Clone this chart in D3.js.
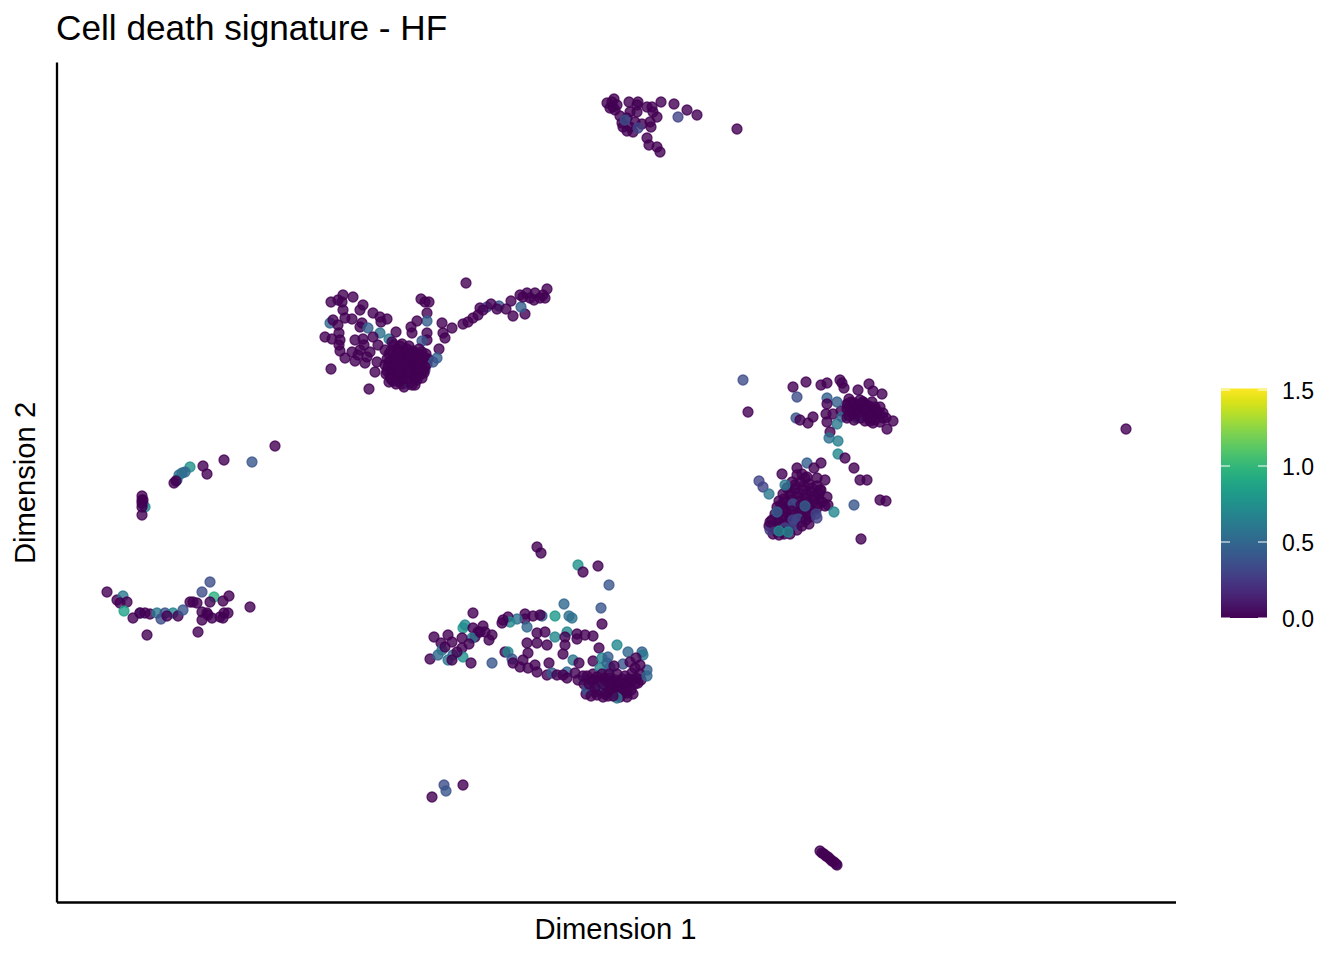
<!DOCTYPE html>
<html><head><meta charset="utf-8">
<script src="https://cdn.jsdelivr.net/npm/d3@7"></script>
<style>html,body{margin:0;background:#fff}svg{display:block}text{font-family:"Liberation Sans",Arial,sans-serif;fill:#000}</style>
</head><body><svg id="c" width="1344" height="960"></svg>
<script>
// Each cell: [dimension 1, dimension 2, signature score (0 when omitted)]
const upperLeftArm=[[409,619],[274,600],[286,607],[296,605],[285,600],[281,602],[306,597],[303,592],[286,592],[273,579,.5],[276,582],[281,577],[288,584],[295,583],[305,579],[303,575],[316,589],[323,585],[330,583],[324,580],[311,574,.45],[323,569,.55],[332,563,.6],[268,565],[275,563],[282,569],[283,562],[282,557],[283,551],[288,544],[298,562],[306,563],[316,565],[303,552],[298,541],[308,539],[274,533],[312,513],[318,530],[301,547],[313,550],[321,557],[328,552],[310,545],[320,540],[295,550],[307,557],[364,603],[368,600],[372,600],[370,589],[370,581,.45],[360,581],[354,575],[355,569],[339,570],[370,569],[370,562],[365,561,.4],[385,579],[395,574],[386,569],[388,564],[382,553],[380,544,.45],[368,532,.3]];
const upperCore=[[335,560],[345,558],[352,556],[340,553],[348,551],[356,551],[362,553],[332,548],[338,546],[344,547],[350,546],[357,546],[363,547],[369,548],[330,543],[335,541],[341,541],[347,541],[353,541],[359,541],[365,542],[371,543],[328,537],[334,536],[340,536],[346,536],[352,536],[358,536],[364,537],[370,538],[376,540,.4],[330,531],[336,531],[342,531],[348,531],[354,531],[360,531],[366,532],[333,526],[339,526],[345,526],[351,526],[357,526],[363,527],[336,521],[342,520],[348,521],[354,520],[360,522],[345,518],[352,518,.5],[337,523,.4],[332,520],[358,517]];
const upperCoreFill=[[337,557],[343,556],[350,553],[358,549],[365,550],[334,551],[341,549],[347,544],[353,548],[360,544],[367,545],[332,540],[338,539],[344,538],[350,539],[356,538],[362,539],[368,535],[331,535],[337,533],[343,534],[349,533],[355,534],[361,534],[367,529],[329,528],[335,528],[341,528],[347,528],[353,528],[359,528],[365,524],[334,523],[340,523],[346,523],[352,523],[358,524],[339,518],[347,515],[355,517],[343,543],[352,543],[346,530],[350,535],[348,537],[345,533],[351,529],[343,530]];
const upperRightArm=[[406,578],[411,580],[416,584],[421,587],[423,594],[430,595,.3],[442,596,.4],[440,593],[454,601],[456,586],[468,588],[464,595,.45],[463,607],[470,609],[478,609],[490,613],[488,604],[483,604],[473,604],[466,605],[486,607],[477,602],[426,592],[434,598],[449,593]];
const lowerIslands=[[480,355],[484,349],[521,337,.75],[526,330],[541,336],[552,317,.4],[507,298,.5],[544,294,.4],[498,286,.8],[512,286,.55],[515,284,.55],[416,289],[545,278],[468,288],[485,286,.45],[483,287],[476,286],[468,283],[460,283,.55],[451,285],[453,280,.7],[445,279],[446,282]];
const lowerLeft=[[406,274,.8],[408,277,.7],[416,274],[426,276],[421,270],[428,270],[435,267],[418,265],[415,264,.6],[377,265],[391,267],[384,259],[395,260],[405,264],[405,254],[373,243],[381,247,.5],[385,252,.6],[391,242,.6],[396,247,.5],[395,242],[406,245,.75],[414,239],[435,239,.4],[432,262],[423,270],[412,258],[388,255],[400,250]];
const lowerMiddle=[[470,275,.5],[480,269],[488,270],[498,265,.7],[510,270,.7],[508,265],[520,268],[520,263],[528,267],[536,266],[470,259],[480,259],[490,257],[508,257],[506,248],[542,254],[560,257,.7],[448,250],[451,250,.7],[471,249],[455,243,.4],[456,239],[466,242],[463,235],[471,234],[478,237],[480,230],[492,239],[490,227],[495,229,.45],[500,227],[510,230,.5],[506,227],[510,224],[516,242,.6],[522,239],[518,229],[521,222],[528,222,.6]];
const lowerCore=[[536,241],[545,244,.7],[543,234,.7],[553,235,.45],[550,239,.5],[571,250,.5],[585,250,.45],[586,247,.6],[590,232,.45],[583,237],[578,234],[575,222],[543,215,.55],[530,212,.4],[536,222],[548,222],[558,215],[552,210],[561,207],[566,209],[560,204,.6],[540,225],[545,228],[552,228],[560,228],[568,226],[575,229],[583,228],[532,218],[538,214],[546,218],[553,218],[562,220],[570,216],[578,218],[584,222],[526,226],[548,208],[556,206],[540,207],[534,206],[568,212],[574,212],[590,226,.5],[566,238,.4],[557,236],[551,245,.45],[573,240],[579,244]];
const lowerCoreFill=[[530,226],[536,228],[541,220],[547,224],[553,224],[558,222],[565,223],[572,223],[579,224],[535,216],[542,216],[549,214],[555,212],[559,218],[566,218],[573,219],[581,219],[544,211],[551,206],[557,210],[563,213],[570,209],[576,208],[563,205],[570,205],[546,205],[529,208],[527,218],[538,210],[544,221],[550,219],[556,218],[562,215],[552,214],[555,221],[545,212]];
const rightUpper=[[686,522,.35],[691,490],[736,515],[749,520],[764,517],[770,519],[740,505,.35],[783,522],[785,519],[787,514],[770,504,.45],[780,500,.45],[770,498],[791,498],[801,512],[812,518],[816,511],[825,508],[739,484,.4],[743,482],[751,479],[756,485],[769,488],[776,488],[770,480],[780,478,.6],[785,485,.5],[790,484],[800,484,.45],[795,492],[800,495],[806,500],[814,494],[806,500],[823,495],[810,490],[820,489],[826,489],[816,479],[823,480],[836,481],[830,473],[773,470],[772,464,.55],[781,461,.65],[781,448,.7],[788,444],[797,434],[803,422],[810,422],[823,402],[829,401],[797,397,.4],[804,363]];
const rightTopCore=[[792,503],[797,499],[803,502],[809,497],[815,500],[790,493],[796,488],[802,490],[808,492],[814,488],[820,491],[826,484],[812,484],[804,484],[797,482],[818,482],[792,486]];
const rightTopFill=[[794,500],[800,497],[806,499],[812,496],[818,495],[793,490],[799,493],[805,495],[811,491],[817,487],[823,488],[829,484],[800,486],[806,487],[813,481],[808,481],[795,495],[802,494],[809,486],[790,498],[784,491]];
const rightLowerCore=[[745,428],[735,420],[743,420],[752,418],[760,416],[730,414],[738,413],[746,412],[754,410],[762,408],[726,408],[733,406],[741,405],[749,404],[757,402],[765,400],[722,401],[729,400],[736,398,.35],[744,397],[752,396],[760,394],[720,395],[727,393],[735,391],[743,390],[751,388],[759,388,.3],[718,388],[725,386],[733,384],[741,383,.35],[749,382],[715,382],[722,379],[730,378],[738,377,.3],[745,376],[718,373],[728,374,.3],[733,368],[716,368],[722,367]];
const rightLowerFill=[[748,424],[738,417],[747,416],[755,414],[764,412],[733,410],[741,409],[750,408],[758,406],[727,403],[735,402],[743,401],[751,400],[760,398],[724,397],[731,396],[740,394],[748,393],[756,391],[722,391],[729,390],[737,388],[745,386],[753,385],[720,384],[727,382],[735,381],[744,380],[752,378],[717,377],[724,375],[732,373],[740,372],[720,370],[727,368],[712,376],[762,402],[768,396]];
const rightLower=[[750,439,.45],[764,439],[740,434],[725,428],[702,421,.3],[706,415,.3],[712,408,.6],[728,417,.6],[740,427],[750,425],[757,434],[768,422],[760,424],[763,412],[770,405],[771,397],[777,390,.7],[748,396,.45],[720,390,.45],[736,382,.3],[713,372,.25],[725,370],[731,370,.7],[722,371,.7],[713,380],[760,384,.3]];
const farLeftTop=[[218,456],[195,440,.4],[167,442],[146,436],[150,428],[133,435,.75],[128,430,.5],[125,429,.5],[122,427,.55],[120,422,.6],[117,419],[119,421],[85,406],[85,402],[86,398],[88,395,.7],[85,395],[85,399],[86,402],[85,387]];
const farLeftBottom=[[50,310],[60,302],[66,306,.6],[63,299],[70,300],[67,291,.85],[83,289,.35],[76,284],[83,289],[88,289],[93,288],[100,289,.6],[104,283,.35],[108,289,.4],[116,289,.7],[110,286],[121,286],[126,292,.4],[133,300],[136,300],[140,299],[145,310,.35],[153,320,.35],[157,305,.95],[153,300],[172,306],[166,301],[193,295],[145,290],[150,289],[151,287],[145,282],[155,284],[163,285],[166,284],[171,289],[167,289],[141,270],[90,267]];
const topCluster=[[680,773],[640,787],[630,792],[617,798],[604,800],[595,795],[590,795],[581,800],[580,797],[572,800],[557,803],[550,799],[553,794],[558,792],[573,790],[580,790],[596,790],[600,785],[593,780],[594,775],[565,779],[573,775],[576,770],[590,764],[592,757],[600,755],[603,750],[563,786],[570,784],[578,780],[585,778],[556,795],[555,800],[560,797],[566,775],[570,771],[621,785,.3],[568,782,.35],[581,774,.3]];
const outliers=[[1069,473],[375,105],[387,117,.35],[389,111,.4],[406,117]];
const bottomStrip=[[763,51],[765,49],[767,48],[769,46],[771,45],[773,43],[775,41],[777,40],[779,38],[780,37]];
const clusters=[upperLeftArm,upperRightArm,upperCore,upperCoreFill,lowerIslands,lowerLeft,lowerMiddle,lowerCoreFill,lowerCore,rightTopFill,rightUpper,rightTopCore,rightLowerFill,rightLowerCore,rightLower,farLeftTop,farLeftBottom,topCluster,outliers,bottomStrip];
const colorTicks=[0,0.5,1,1.5];
const titleText="Cell death signature - HF", xLabel="Dimension 1", yLabel="Dimension 2";

const svg=d3.select("#c");
const x=d3.scaleLinear().domain([0,1119]).range([57,1176]);
const y=d3.scaleLinear().domain([0,840]).range([902,62]);
const color=d3.scaleSequential(d3.interpolateViridis).domain([0,1.5]);

svg.append("g").selectAll("circle").data(clusters.flat()).join("circle")
  .attr("cx",d=>x(d[0])).attr("cy",d=>y(d[1])).attr("r",5)
  .attr("fill",d=>color(d[2]||0)).attr("fill-opacity",.8)
  .attr("stroke",d=>color(d[2]||0)).attr("stroke-opacity",.8).attr("stroke-width",1.3);

const axisStyle=g=>{g.selectAll("path").attr("stroke","#000").attr("stroke-width",2.3);};
svg.append("g").attr("transform","translate(-0.5,902)").call(d3.axisBottom(x).tickValues([]).tickSizeOuter(0)).call(axisStyle);
svg.append("g").attr("transform","translate(56.5,0)").call(d3.axisLeft(y).tickValues([]).tickSizeOuter(0)).call(axisStyle);

svg.append("text").attr("x",56).attr("y",40).attr("font-size",35.2).text(titleText);
svg.append("text").attr("x",615.5).attr("y",939).attr("text-anchor","middle").attr("font-size",29.2).text(xLabel);
svg.append("text").attr("transform","translate(35,483) rotate(-90)").attr("text-anchor","middle").attr("font-size",29.2).text(yLabel);

// colour bar
const barY=d3.scaleLinear().domain([0,1.5]).range([618,390]);
const defs=svg.append("defs");
const grad=defs.append("linearGradient").attr("id","vir").attr("x1",0).attr("x2",0).attr("y1",1).attr("y2",0);
d3.range(0,1.0001,.05).forEach(t=>grad.append("stop").attr("offset",t).attr("stop-color",d3.interpolateViridis(t)));
svg.append("rect").attr("x",1221).attr("width",46).attr("y",barY(1.5)-1.5).attr("height",barY(0)-barY(1.5)+1.5).attr("fill","url(#vir)");
const tk=svg.append("g").selectAll("g").data(colorTicks).join("g").attr("transform",d=>`translate(0,${barY(d)})`);
tk.append("line").attr("x1",1221).attr("x2",1230).attr("stroke","#fff").attr("stroke-width",1);
tk.append("line").attr("x1",1258).attr("x2",1267).attr("stroke","#fff").attr("stroke-width",1);
tk.append("text").attr("x",1282).attr("y",9).attr("font-size",23).text(d=>d3.format(".1f")(d));
</script></body></html>
